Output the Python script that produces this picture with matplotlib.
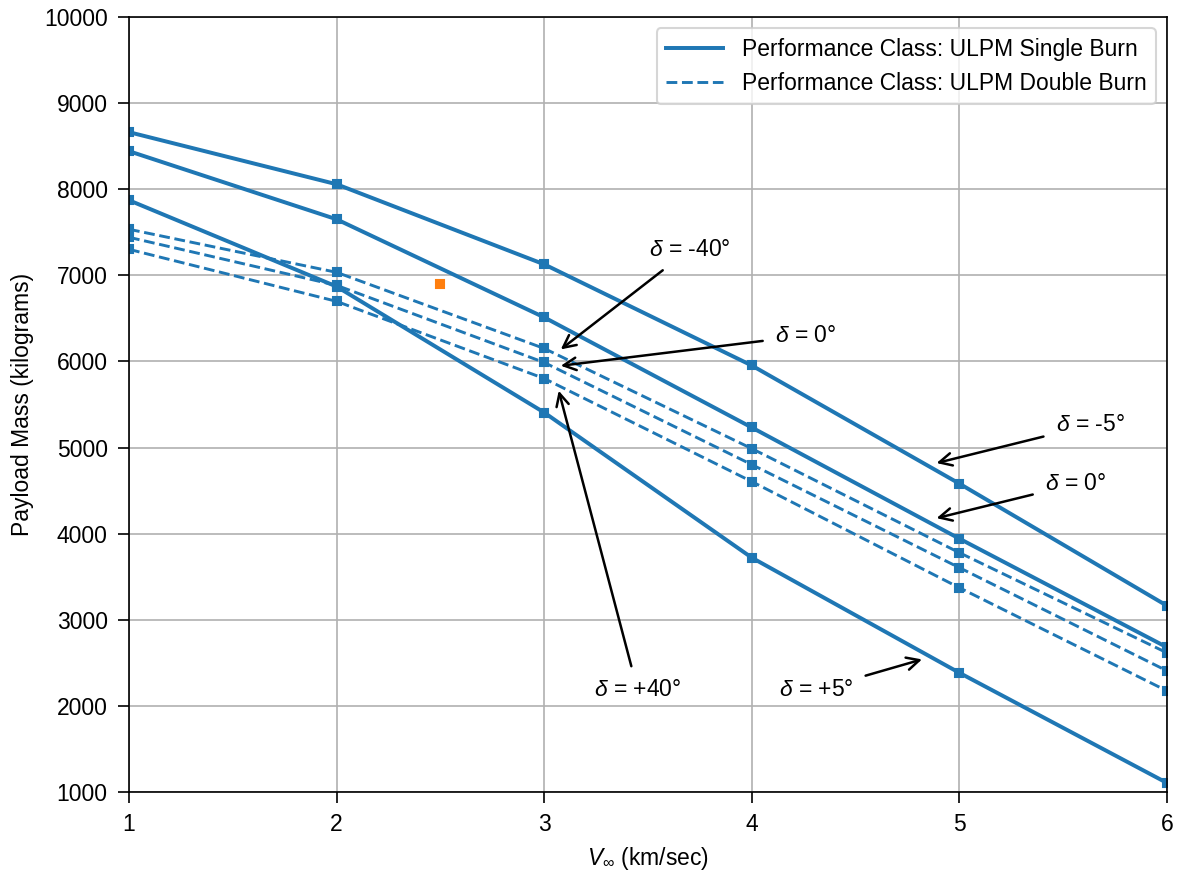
import matplotlib
matplotlib.use("Agg")
import matplotlib.pyplot as plt
from matplotlib.lines import Line2D

plt.rcParams['font.family'] = ['Liberation Sans', 'DejaVu Sans']
plt.rcParams['mathtext.fontset'] = 'custom'
plt.rcParams['mathtext.rm'] = 'Liberation Sans'
plt.rcParams['mathtext.it'] = 'Liberation Sans:italic'
plt.rcParams['font.size'] = 11
plt.rcParams['xtick.major.size'] = 5.2
plt.rcParams['ytick.major.size'] = 5.2
plt.rcParams['xtick.major.pad'] = 5.0
plt.rcParams['ytick.major.pad'] = 5.0

v_inf = [1, 2, 3, 4, 5, 6]

single_burn = {
    "d-5": [8663, 8058, 7128, 5953, 4581, 3163],
    "d0": [8442, 7651, 6512, 5233, 3942, 2680],
    "d+5": [7872, 6870, 5407, 3721, 2384, 1105],
}
double_burn = {
    "d-40": [7535, 7035, 6151, 4988, 3779, 2616],
    "d0": [7442, 6884, 5988, 4802, 3605, 2407],
    "d+40": [7302, 6698, 5802, 4605, 3372, 2174],
}

extra_x = [2.5]
extra_y = [6900]

# annotations: (text, text_xy, arrow_tip_xy)
annotations = [
    (r"$\delta$ = -40°", (3.70, 7300), (3.08, 6140)),
    (r"$\delta$ = 0°", (4.26, 6300), (3.08, 5950)),
    (r"$\delta$ = +40°", (3.45, 2185), (3.07, 5660)),
    (r"$\delta$ = -5°", (5.63, 5262), (4.89, 4820)),
    (r"$\delta$ = 0°", (5.56, 4577), (4.89, 4180)),
    (r"$\delta$ = +5°", (4.31, 2185), (4.82, 2540)),
]

color = '#1f77b4'
fig = plt.figure(figsize=(7.86, 5.82), dpi=150)
ax = fig.add_axes([0.1094, 0.0928, 0.8804, 0.8877])

for key, vals in single_burn.items():
    ax.plot(v_inf, vals, '-', color=color, lw=1.9)
    ax.plot(v_inf, vals, 's', color=color, ms=3.8, lw=0)
for key, vals in double_burn.items():
    ax.plot(v_inf, vals, '--', color=color, lw=1.4)
    ax.plot(v_inf, vals, 's', color=color, ms=3.8, lw=0)

ax.plot(extra_x, extra_y, 's', color='#ff7f0e', ms=3.8)

for txt, xyt, xy in annotations:
    ax.annotate(txt, xy=xy, xytext=xyt, ha='center', va='center', fontsize=11,
                arrowprops=dict(arrowstyle='->', color='black', lw=1.2,
                                mutation_scale=15, shrinkA=4, shrinkB=0))

handles = [Line2D([], [], color=color, lw=1.9, ls='-'),
           Line2D([], [], color=color, lw=1.4, ls='--')]
ax.legend(handles, ["Performance Class: ULPM Single Burn",
                    "Performance Class: ULPM Double Burn"], loc='upper right',
          handlelength=2.5, fontsize=11)

ax.set_xlim(1, 6)
ax.set_ylim(1000, 10000)
ax.set_xticks(v_inf)
ax.set_yticks(range(1000, 10001, 1000))
ax.grid(True)
ax.set_axisbelow(True)
ax.set_xlabel(r"$V_\infty$ (km/sec)", labelpad=4)
ax.set_ylabel("Payload Mass (kilograms)", labelpad=5)

fig.savefig("out.png", dpi=150)
